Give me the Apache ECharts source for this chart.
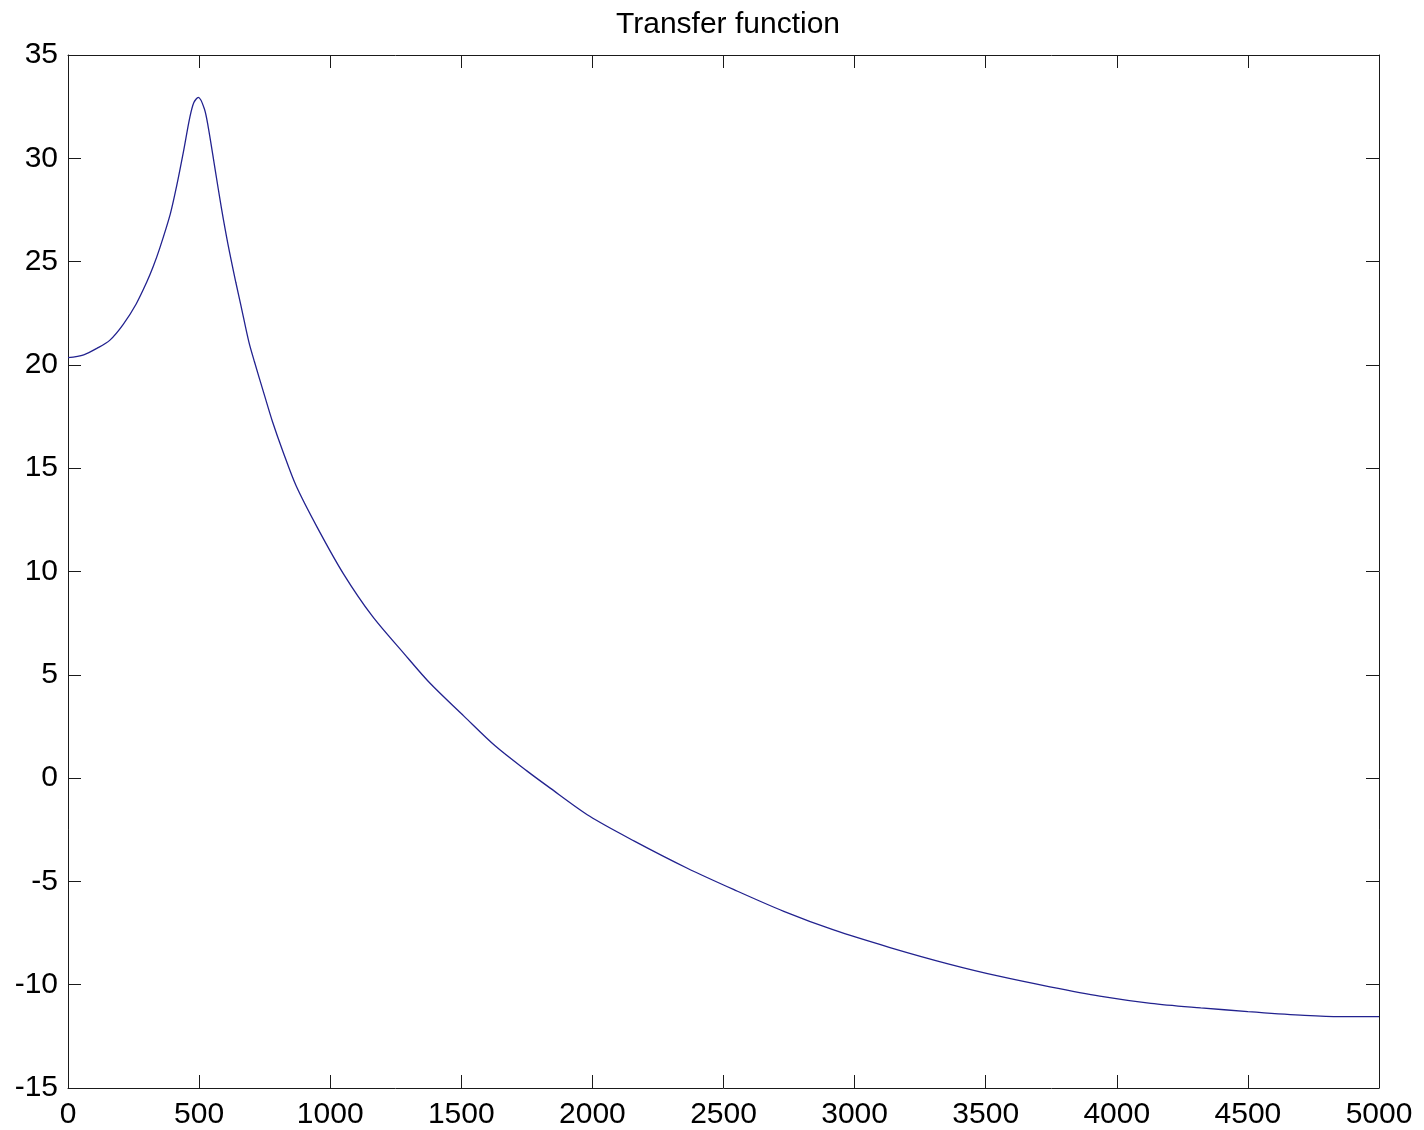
<!DOCTYPE html>
<html>
<head>
<meta charset="utf-8">
<title>Transfer function</title>
<script src="https://cdn.jsdelivr.net/npm/echarts@6/dist/echarts.min.js"></script>
<style>
  html, body { margin: 0; padding: 0; background: #fff; }
  #chart { width: 1424px; height: 1130px; }
</style>
</head>
<body>
<div id="chart"></div>
<script>
// Frequency samples (Hz) and magnitude response (dB)
const freqs = [0, 60, 110, 160, 210, 260, 300, 325, 350, 390, 415, 440, 465, 480, 497,
  520, 535, 560, 585, 610, 640, 660, 690, 710, 750, 780, 820, 870, 950, 1050,
  1160, 1280, 1380, 1510, 1630, 1750, 1830, 1990, 2160, 2360, 2540, 2730, 2920,
  3135, 3360, 3555, 3745, 3935, 4130, 4320, 4500, 4700, 4850, 5000];
const gains = [20.35, 20.49, 20.8, 21.2, 21.95, 22.95, 24.0, 24.76, 25.65, 27.3, 28.7, 30.3, 32.0, 32.7, 32.95,
  32.4, 31.5, 29.55, 27.6, 25.85, 24.0, 22.85, 21.1, 20.2, 18.5, 17.25, 15.8, 14.15, 12.15, 9.9,
  7.85, 6.05, 4.6, 3.0, 1.55, 0.35, -0.4, -1.85, -3.05, -4.35, -5.4, -6.45, -7.35,
  -8.2, -9.0, -9.6, -10.1, -10.55, -10.9, -11.12, -11.3, -11.47, -11.55, -11.55];

const xTicks = { min: 0, max: 5000, step: 500 };
const yTicks = { min: -15, max: 35, step: 5 };

const points = freqs.map((f, i) => [f, gains[i]]);

const axisColor = '#1a1a1a';
const fontFamily = 'Liberation Sans, Arial, sans-serif';
const labelFont = { fontFamily: fontFamily, fontSize: 30, color: '#000' };

function frameAxis(extra) {
  return Object.assign({
    type: 'value',
    axisLine: { show: true, onZero: false, lineStyle: { color: axisColor, width: 1 } },
    axisTick: { show: true, inside: true, length: 13, lineStyle: { color: axisColor, width: 1 } },
    splitLine: { show: false }
  }, extra);
}

const plainNumber = v => String(v);

const chart = echarts.init(document.getElementById('chart'), null, { renderer: 'canvas' });
chart.setOption({
  animation: false,
  backgroundColor: '#fff',
  title: {
    text: 'Transfer function',
    left: 723,
    textAlign: 'center',
    top: 5,
    textStyle: { fontFamily: fontFamily, fontSize: 30, fontWeight: 'normal', color: '#000' }
  },
  grid: { left: 68, top: 55, right: 45, bottom: 41, containLabel: false },
  xAxis: [
    frameAxis({ position: 'bottom', min: xTicks.min, max: xTicks.max, interval: xTicks.step,
      axisLabel: Object.assign({ margin: 12, formatter: plainNumber }, labelFont) }),
    frameAxis({ position: 'top', min: xTicks.min, max: xTicks.max, interval: xTicks.step,
      axisLabel: { show: false } })
  ],
  yAxis: [
    frameAxis({ position: 'left', min: yTicks.min, max: yTicks.max, interval: yTicks.step,
      axisLabel: Object.assign({ margin: 10, formatter: plainNumber }, labelFont) }),
    frameAxis({ position: 'right', min: yTicks.min, max: yTicks.max, interval: yTicks.step,
      axisLabel: { show: false } })
  ],
  series: [{
    type: 'line',
    xAxisIndex: 0,
    yAxisIndex: 0,
    data: points,
    showSymbol: false,
    smooth: 0.3,
    lineStyle: { color: '#22228f', width: 1.3 }
  }]
});
</script>
</body>
</html>
